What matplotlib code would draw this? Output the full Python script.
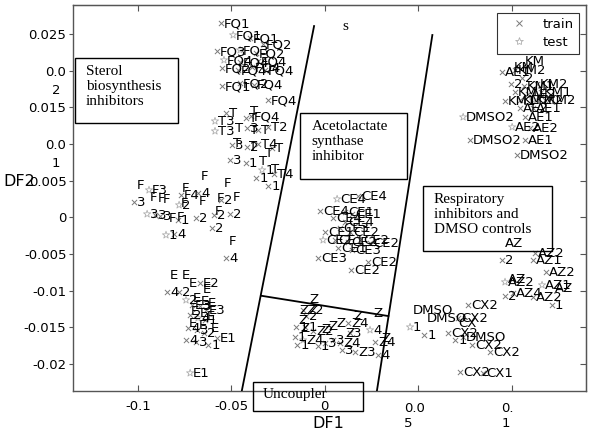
import matplotlib
matplotlib.use("Agg")
import matplotlib.pyplot as plt
from matplotlib.transforms import offset_copy, ScaledTranslation
from matplotlib.patches import Rectangle
from matplotlib.lines import Line2D

# training samples (DF1, DF2, label)
train_x = [-0.0555, -0.0399, -0.0330, -0.0576, -0.0367, -0.0453, -0.0357, -0.0549, -0.0463, -0.0389,
           -0.0319, -0.0549, -0.0453, -0.0378, -0.0303, -0.0394,
           -0.0528, -0.0421, -0.0416, -0.0357, -0.0303, -0.0496, -0.0416, -0.0357, -0.0281, -0.0506,
           -0.0421, -0.0271, -0.0367, -0.0303,
           -0.1020, -0.0907, -0.0881, -0.0769, -0.0678, -0.0555, -0.0785, -0.0806, -0.0688, -0.0592,
           -0.0506, -0.0603, -0.0528,
           -0.0667, -0.0843, -0.0779, -0.0710, -0.0667, -0.0635, -0.0720, -0.0640, -0.0731, -0.0683,
           -0.0645, -0.0576, -0.0742, -0.0688, -0.0624,
           0.0178, -0.0025, 0.0109, 0.0146, 0.0044, 0.0109, 0.0002, 0.0082, 0.0135, 0.0055,
           0.0125, 0.0189, 0.0242, 0.0071, 0.0146, -0.0036, 0.0232, 0.0141,
           -0.0116, -0.0100, -0.0153, -0.0105, -0.0063, -0.0159, -0.0148, -0.0036, 0.0002, 0.0044,
           0.0082, 0.0125, 0.0135, 0.0093, 0.0162, 0.0269, 0.0285,
           0.0948, 0.1018, 0.1055, 0.0996, 0.1066, 0.1136, 0.1018, 0.1087, 0.1157, 0.0964,
           0.1044, 0.1178, 0.1044, 0.1114, 0.1071, 0.1098, 0.0777, 0.1071, 0.1028,
           0.0948, 0.1125, 0.1114, 0.1183, 0.0964, 0.1007, 0.1114, 0.1215, 0.0766, 0.0713,
           0.0531, 0.0659, 0.0697, 0.0740, 0.0788, 0.0884, 0.0724, 0.0847]
train_y = [0.02647, 0.02443, 0.02361, 0.02266, 0.02238, 0.02116, 0.02129, 0.02034, 0.02007, 0.02047,
           0.02007, 0.01789, 0.01830, 0.01803, 0.01598, 0.01380,
           0.01420, 0.01352, 0.01216, 0.01189, 0.01230, 0.00985, 0.00958, 0.00999, 0.00944, 0.00781,
           0.00740, 0.00590, 0.00535, 0.00427,
           0.00208, 0.00031, 0.00018, 0.00304, 0.00331, 0.00236, -0.00037, -0.00228, -0.00010, 0.00031,
           0.00045, -0.00146, -0.00555,
           -0.00895, -0.01018, -0.01018, -0.01195, -0.01208, -0.01263, -0.01331, -0.01399, -0.01508, -0.01535,
           -0.01576, -0.01644, -0.01671, -0.01699, -0.01740,
           0.00290, 0.00086, 0.00072, 0.00045, -0.00010, -0.00064, -0.00200, -0.00146, -0.00200, -0.00309,
           -0.00336, -0.00309, -0.00350, -0.00418, -0.00446, -0.00555, -0.00609, -0.00718,
           -0.01263, -0.01345, -0.01495, -0.01495, -0.01549, -0.01631, -0.01740, -0.01754, -0.01713, -0.01672,
           -0.01713, -0.01440, -0.01576, -0.01808, -0.01835, -0.01699, -0.01876,
           0.01980, 0.02007, 0.01898, 0.01816, 0.01789, 0.01816, 0.01707, 0.01680, 0.01707, 0.01584,
           0.01598, 0.01598, 0.01489, 0.01489, 0.01366, 0.01216, 0.01053, 0.01053, 0.00849,
           -0.00582, -0.00486, -0.00582, -0.00745, -0.01072, -0.01031, -0.01086, -0.01195, -0.01195, -0.01372,
           -0.01604, -0.01576, -0.01672, -0.01631, -0.01740, -0.01835, -0.02108, -0.02121]
train_labels = ["FQ1", "FQ1", "FQ2", "FQ3", "FQ2", "FQ4", "FQ4", "FQ2", "FQ4", "FQ4",
                "FQ4", "FQ1", "FQ2", "FQ4", "FQ4", "FQ4",
                "T", "T", "T\n3", "T", "T2", "T\n3", "T\n2", "T4", "T", "T\n3",
                "T\n1", "T4", "T\n1", "T\n1",
                "F\n3", "F\n3", "F\n3", "F4", "F\n4", "F\n2", "F\n1", "F\n4", "F\n2", "F\n2",
                "F\n2", "F\n2", "F\n4",
                "E2", "E\n4", "E\n2", "E3", "E\n3", "E3", "E\n2", "E\n1", "E\n4", "E\n3",
                "E\n2", "E1", "E\n4", "E\n3", "E\n1",
                "CE4", "CE4", "CE1", "CE1", "CE4", "CE4", "CE1", "CE3", "CE2", "CE1",
                "CE2", "CE2", "CE2", "CE1", "CE3", "CE3", "CE2", "CE2",
                "Z2", "Z\n2", "Z\n1", "Z\n1", "Z2", "Z\n1", "Z\n1", "Z\n1", "Z\n3", "Z\n3",
                "Z4", "Z4", "Z\n3", "Z\n3", "Z3", "Z4", "Z\n4",
                "AE1", "KM2", "KM\n2", "KM\n2", "KM1", "KM2", "KM1", "AE2", "KM1", "KM1",
                "KM2", "KM2", "AE2", "AE1", "AE1", "AE2", "DMSO2", "AE1", "DMSO2",
                "AZ\n2", "AZ2", "AZ1", "AZ2", "AZ\n2", "AZ4", "AZ2", "AZ\n1", "CX2", "CX2",
                "DMSO\n1", "CX2", "CX\n1", "DMSO", "CX2", "CX2", "CX2", "CX1"]

# test samples
test_x = [-0.0490, -0.0453, -0.0539, -0.0587, -0.0587, -0.0335,
          -0.0940, -0.0950, -0.0779, -0.0849,
          -0.0742, -0.0678, -0.0720,
          0.0066, -0.0009,
          -0.0116, 0.0242,
          0.1114, 0.0740, 0.1002,
          0.0964, 0.1162, 0.0456]
test_y = [0.02484, 0.02279, 0.02143, 0.01311, 0.01175, 0.00644,
          0.00372, 0.00045, 0.00168, -0.00241,
          -0.01127, -0.01372, -0.02121,
          0.00249, -0.00309,
          -0.01672, -0.01535,
          0.01598, 0.01366, 0.01230,
          -0.00881, -0.00922, -0.01495]
test_labels = ["FQ1", "FQ3", "FQ4", "T3", "T3", "T\n1",
               "F3", "F\n3", "F\n2", "F\n1",
               "E\n2", "E\n4", "E1",
               "CE4", "CE2",
               "Z4", "Z\n4",
               "KM2", "DMSO2", "AE2",
               "AZ2", "AZ1", "DMSO\n1"]

# class boundaries drawn on the plot
bound_left_x = [-0.00572, -0.04439]
bound_left_y = [0.02606, -0.02367]
bound_right_x = [0.05754, 0.02781]
bound_right_y = [0.02484, -0.02376]
bound_mid_x = [-0.03406, 0.03401]
bound_mid_y = [-0.01068, -0.01345]

xticks = [-0.1, -0.05, 0, 0.05, 0.1]
xtick_labels = ["-0.1", "-0.05", "0", "0.0\n5", "0.\n1"]
yticks = [-0.02, -0.015, -0.01, -0.005, 0, 0.005, 0.01, 0.015, 0.02, 0.025]
ytick_labels = ["-0.02", "-0.015", "-0.01", "-0.005", "0", "0.005", "0.0\n1", "0.015", "0.0\n2", "0.025"]

W, H = 592, 434
fig = plt.figure(figsize=(W / 100, H / 100), dpi=100)
ax = fig.add_axes([72.7 / W, 1 - 390.7 / H, (586 - 72.7) / W, (390.7 - 4.7) / H])
ax.set_xlim(-0.1348, 0.1397)
ax.set_ylim(-0.02362, 0.02897)

ax.scatter(train_x, train_y, marker="x", s=14, c="#7a7a7a", linewidths=0.7, zorder=2)
ax.scatter(test_x, test_y, marker="*", s=30, facecolors="none", edgecolors="#b0b0b0",
           linewidths=0.6, zorder=2)

# point labels sit just right of each marker
lab_trans = offset_copy(ax.transData, fig=fig, x=3, y=-4, units="dots")
for xs, ys, labs in [(train_x, train_y, train_labels), (test_x, test_y, test_labels)]:
    for x, y, lab in zip(xs, ys, labs):
        ax.text(x, y, lab, transform=lab_trans, fontsize=9.5, color="black",
                ha="left", va="baseline", linespacing=1.4, zorder=3)

for bx, by in [(bound_left_x, bound_left_y), (bound_right_x, bound_right_y), (bound_mid_x, bound_mid_y)]:
    ax.plot(bx, by, color="black", lw=1.3, zorder=4)

for s in ax.spines.values():
    s.set_color("#555555")
    s.set_linewidth(1.0)

ax.set_xticks(xticks)
ax.set_xticklabels(xtick_labels, multialignment="left")
ax.set_yticks(yticks)
ax.set_yticklabels(ytick_labels, multialignment="center", linespacing=1.5)
ax.tick_params(axis="x", direction="in", length=4, pad=7, labelsize=9.5, color="#555555")
ax.tick_params(axis="y", direction="out", length=3, pad=1.5, labelsize=9.5, color="#555555")

# wrapped tick labels sit a little off their ticks in the original
for lab in ax.get_yticklabels():
    if "\n" in lab.get_text():
        lab.set_transform(lab.get_transform() + ScaledTranslation(0, -7 / 100, fig.dpi_scale_trans))
for lab in ax.get_xticklabels():
    if "\n" in lab.get_text():
        lab.set_transform(lab.get_transform() + ScaledTranslation(-4 / 100, -2 / 100, fig.dpi_scale_trans))

top = ax.secondary_xaxis("top")
top.set_xticks(xticks)
top.tick_params(direction="in", length=4, labeltop=False, color="#555555")
right = ax.secondary_yaxis("right")
right.set_yticks(yticks)
right.tick_params(direction="in", length=4, labelright=False, color="#555555")
for sec in (top, right):
    for s in sec.spines.values():
        s.set_color("#555555")

fig.text(3 / W, 1 - 181 / H, "DF2", fontsize=11.5, ha="left", va="center")
fig.text(328 / W, 1 - 424 / H, "DF1", fontsize=11.5, ha="center", va="center")
fig.text(345 / W, 1 - 27 / H, "s", fontsize=11, family="Liberation Serif", ha="center", va="center")

# annotation boxes
boxes = [
    ((75.3, 58, 178, 122.7), (85.7, 65), "Sterol\nbiosynthesis\ninhibitors"),
    ((300, 112.7, 407, 179.3), (311.7, 120), "Acetolactate\nsynthase\ninhibitor"),
    ((423.3, 186, 551.7, 250.7), (434, 192.5), "Respiratory\ninhibitors and\nDMSO controls"),
    ((252.7, 381.7, 362.7, 410.7), (262.7, 388), "Uncoupler"),
]
for (x0, y0, x1, y1), (tx, ty), txt in boxes:
    fig.add_artist(Rectangle((x0 / W, 1 - y1 / H), (x1 - x0) / W, (y1 - y0) / H,
                             transform=fig.transFigure, fill=False, edgecolor="black", lw=1.0))
    fig.text(tx / W, 1 - ty / H, txt, fontsize=11, family="Liberation Serif",
             ha="left", va="top", linespacing=1.2)

handles = [Line2D([], [], marker="x", ls="", color="#7a7a7a", ms=4, mew=0.7),
           Line2D([], [], marker="*", ls="", mfc="none", mec="#b0b0b0", ms=6, mew=0.6)]
leg = ax.legend(handles, ["train", "test"], loc="upper right",
                bbox_to_anchor=(578.7 / W, 1 - 12.7 / H), bbox_transform=fig.transFigure,
                borderaxespad=0, fancybox=False, edgecolor="black", fontsize=9.5,
                borderpad=0.4, handlelength=2.6, handletextpad=0.45, labelspacing=0.35)
leg.get_frame().set_linewidth(0.8)

fig.savefig("out.png", dpi=100)
